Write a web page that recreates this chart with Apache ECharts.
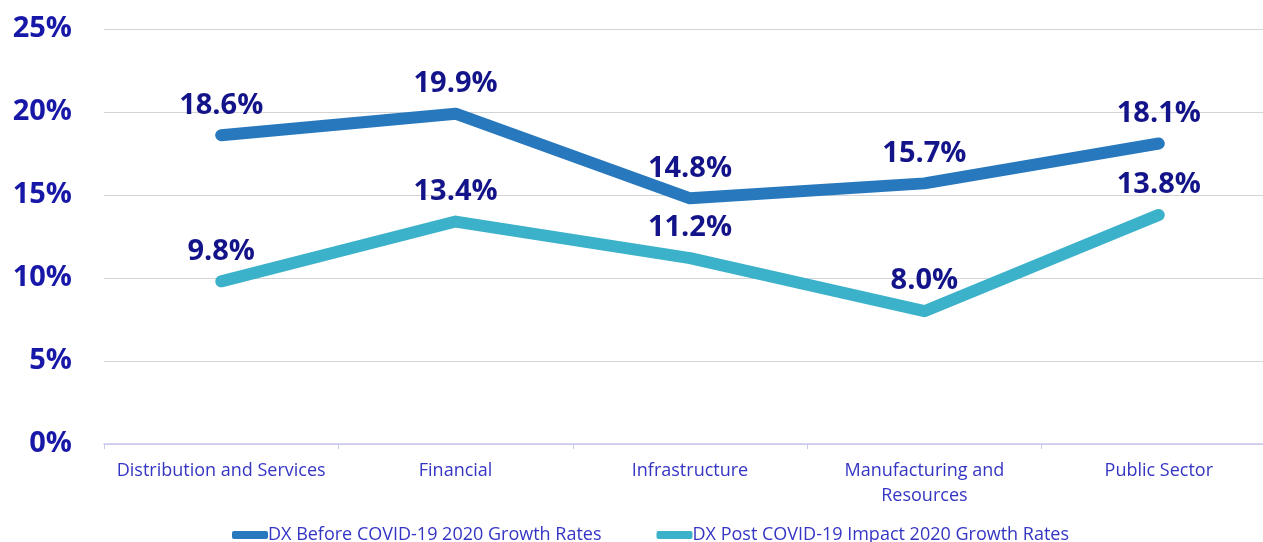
<!DOCTYPE html>
<html>
<head>
<meta charset="utf-8">
<script src="https://cdn.jsdelivr.net/npm/echarts@6/dist/echarts.min.js"></script>
<style>
  html, body { margin: 0; padding: 0; background: #fff; overflow: hidden; }
  /* the plot runs past the right edge of the window, as in the source picture */
  #chart { width: 1276px; height: 542px; }
</style>
</head>
<body>
<div id="chart"></div>
<script>
var categories = ['Distribution and Services', 'Financial', 'Infrastructure', 'Manufacturing and\nResources', 'Public Sector'];
var beforeName = 'DX Before COVID-19 2020 Growth Rates';
var postName = 'DX Post COVID-19 Impact 2020 Growth Rates';
var beforeRates = [18.6, 19.9, 14.8, 15.7, 18.1];
var postRates = [9.8, 13.4, 11.2, 8.0, 13.8];

var myChart = echarts.init(document.getElementById('chart'));

// data labels above each point
var labelStyle = {
    show: true,
    position: 'top',
    distance: 15,
    formatter: function (p) { return p.value.toFixed(1) + '%'; },
    color: '#14148a',
    fontFamily: 'Open Sans',
    fontWeight: 'bold',
    fontSize: 29
};

var option = {
    animation: false,
    grid: { left: 104, right: 0, top: 29, height: 415 },
    legend: {
        top: 521,
        left: 227,
        icon: 'roundRect',
        itemWidth: 36,
        itemHeight: 8,
        itemGap: 55,
        textStyle: { color: '#3535c4', fontFamily: 'Open Sans', fontSize: 18, padding: [0, 0, 0, -5] },
        data: [beforeName, postName]
    },
    xAxis: {
        type: 'category',
        data: categories,
        axisLine: { lineStyle: { color: '#c9c9f0', width: 1.5 } },
        axisTick: { show: true, length: 5, lineStyle: { color: '#c9c9f0' } },
        axisLabel: {
            interval: 0,
            color: '#3535c4',
            fontFamily: 'Open Sans',
            fontSize: 18,
            lineHeight: 25,
            margin: 14
        }
    },
    yAxis: {
        type: 'value',
        min: 0,
        max: 25,
        interval: 5,
        axisLine: { show: false },
        axisTick: { show: false },
        splitLine: { lineStyle: { color: '#d4d4d4', width: 1 } },
        axisLabel: {
            formatter: '{value}%',
            color: '#1818a8',
            fontFamily: 'Open Sans',
            fontWeight: 'bold',
            fontSize: 29,
            margin: 32
        }
    },
    series: [{
        name: beforeName,
        type: 'line',
        data: beforeRates,
        symbol: 'circle',
        symbolSize: 1,
        lineStyle: { color: '#2878bd', width: 12, cap: 'round', join: 'round' },
        itemStyle: { color: '#2878bd' },
        label: labelStyle
    }, {
        name: postName,
        type: 'line',
        data: postRates,
        symbol: 'circle',
        symbolSize: 1,
        lineStyle: { color: '#3bb1ca', width: 12, cap: 'round', join: 'round' },
        itemStyle: { color: '#3bb1ca' },
        label: labelStyle
    }]
};

myChart.setOption(option);
</script>
</body>
</html>
